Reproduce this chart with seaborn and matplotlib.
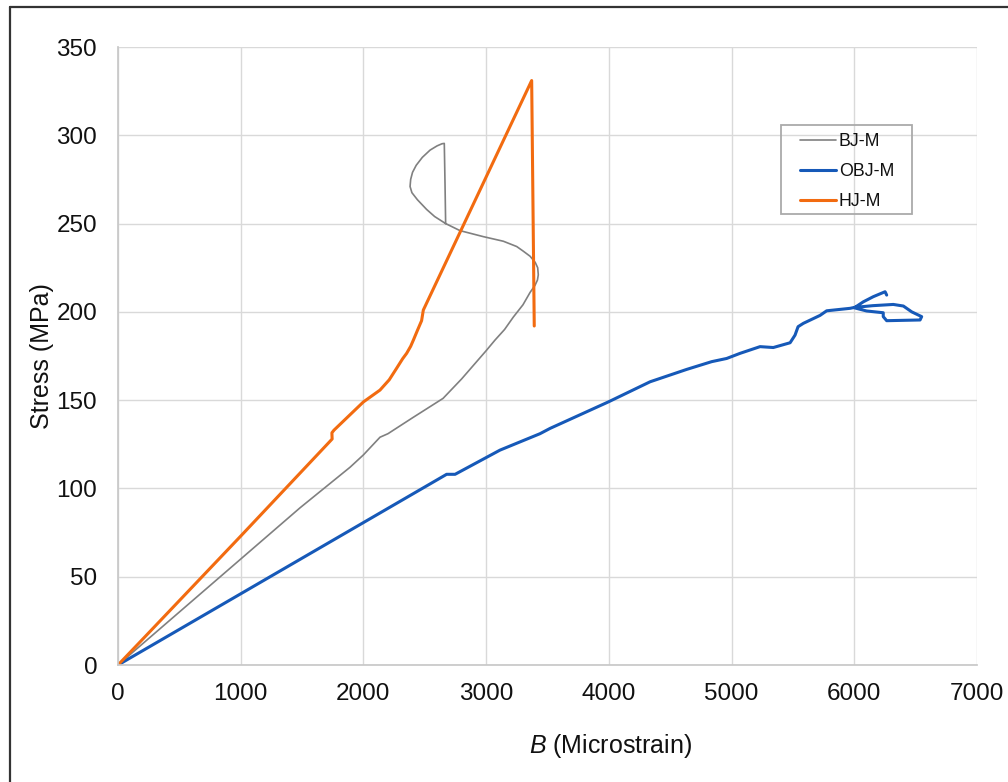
import matplotlib
matplotlib.use("Agg")
import matplotlib.pyplot as plt
from matplotlib.lines import Line2D
from matplotlib.patches import Rectangle
import seaborn as sns
import pandas as pd

# ---- data ----
bj_x = [0, 500, 1000, 1483, 1891, 2000, 2135, 2200, 2400, 2649, 2800, 3000, 3072, 3150, 3221,
        3300, 3358, 3398, 3418, 3425, 3420, 3400, 3358, 3300, 3249, 3140, 2977, 2787, 2670,
        2580, 2515, 2440, 2395, 2380, 2385, 2400, 2430, 2480, 2543, 2600, 2640, 2659, 2665, 2670]
bj_y = [0, 30, 60, 89, 112, 119, 129, 131, 140, 151, 162, 178, 184, 190, 197,
        204, 211, 215, 218, 221, 225, 228, 231.5, 234.5, 237, 240, 242.6, 246, 250,
        254, 258, 263.5, 267.5, 271, 275, 279, 283, 287.5, 291.6, 294, 295.2, 295.4, 272, 250]

obj_x = [0, 2678, 2747, 3113, 3439, 3521, 3996, 4336, 4634, 4838, 4960, 5069, 5232, 5340,
         5477, 5517, 5542, 5585, 5721, 5775, 5966, 6000, 6150, 6318, 6400, 6468, 6549,
         6536, 6400, 6264, 6236, 6236, 6100, 6000, 6074, 6155, 6251, 6264]
obj_y = [0, 108, 108, 121.7, 131, 134, 149, 160.4, 167.4, 171.8, 173.6, 176.5, 180.3, 179.8,
         182.5, 186.8, 191.6, 193.5, 198, 200.6, 202, 202.5, 203.5, 204.2, 203.3, 200, 197.3,
         195.4, 195.2, 195, 197.3, 199.5, 200.5, 202.3, 205.7, 208.6, 211.4, 209.5]

hj_x = [0, 220, 1000, 1725, 1745, 1743, 1760, 2000, 2135, 2210, 2270, 2320, 2352, 2385,
        2407, 2440, 2474, 2488, 3371, 3392]
hj_y = [0, 16, 73, 126.5, 128, 131.5, 133, 149, 155.7, 161.5, 168, 173.5, 176.5, 180.5,
        184, 189.5, 195, 201, 331, 192]

series_names = ["BJ-M", "OBJ-M", "HJ-M"]
x_ticks = [0, 1000, 2000, 3000, 4000, 5000, 6000, 7000]
y_ticks = [0, 50, 100, 150, 200, 250, 300, 350]

colors = {"BJ-M": "#808080", "OBJ-M": "#1659B8", "HJ-M": "#F26B10"}
widths = {"BJ-M": 1.2, "OBJ-M": 2.2, "HJ-M": 2.2}

sns.set_theme(style="white")
plt.rcParams["font.family"] = ["Liberation Sans", "DejaVu Sans"]
plt.rcParams["mathtext.fontset"] = "custom"
plt.rcParams["mathtext.it"] = "Liberation Sans:italic"
plt.rcParams["mathtext.rm"] = "Liberation Sans"

W, H = 1008, 782
fig = plt.figure(figsize=(W / 100, H / 100), dpi=100)
fig.patch.set_facecolor("white")
L, R, T, B = 118, 977, 47, 665
ax = fig.add_axes([L / W, 1 - B / H, (R - L) / W, (B - T) / H])

data = {"BJ-M": (bj_x, bj_y), "OBJ-M": (obj_x, obj_y), "HJ-M": (hj_x, hj_y)}
for name in series_names:
    xs, ys = data[name]
    df = pd.DataFrame({"x": xs, "y": ys})
    sns.lineplot(data=df, x="x", y="y", sort=False, estimator=None, ax=ax,
                 color=colors[name], linewidth=widths[name], label=name,
                 solid_capstyle="round", solid_joinstyle="round")

ax.set_xlim(0, 7000)
ax.set_ylim(0, 350)
ax.set_xticks(x_ticks)
ax.set_yticks(y_ticks)
ax.set_xticklabels([str(v) for v in x_ticks])
ax.set_yticklabels([str(v) for v in y_ticks])
ax.grid(True, color="#d9d9d9", linewidth=1.0)
ax.set_axisbelow(True)
for s in ax.spines.values():
    s.set_visible(False)
ax.spines["left"].set_visible(True)
ax.spines["bottom"].set_visible(True)
ax.spines["left"].set_color("#c8c8c8")
ax.spines["bottom"].set_color("#c8c8c8")
ax.tick_params(axis="both", length=0, labelsize=17.5, colors="#111111")
ax.tick_params(axis="x", pad=13)
ax.tick_params(axis="y", pad=15)

ax.set_xlabel(r"$\it{B}$ (Microstrain)", fontsize=18, color="#111111")
ax.set_ylabel("Stress (MPa)", fontsize=18, color="#111111")
ax.xaxis.set_label_coords((611 - L) / (R - L), -(746 - B) / (B - T))
ax.xaxis.label.set_va("center")
ax.yaxis.set_label_coords((42 - L) / (R - L), 0.5)
ax.yaxis.label.set_va("center")

leg = ax.legend(loc="upper left", bbox_to_anchor=((800 - L) / (R - L), (B - 133) / (B - T)),
                borderaxespad=0, fontsize=12.8, handlelength=2.0, handletextpad=0.18,
                labelspacing=0.74, borderpad=0, frameon=False)
for t in leg.get_texts():
    t.set_color("#111111")
fig.add_artist(Rectangle((781 / W, 1 - 214 / H), (912 - 781) / W, (214 - 125) / H,
                         transform=fig.transFigure, fill=False, edgecolor="#aaaaaa",
                         linewidth=1.3, zorder=5))

# figure border (left and top)
fig.add_artist(Line2D([9.5 / W, 9.5 / W], [0, 1 - 7 / H], transform=fig.transFigure,
                      color="#333333", linewidth=1.6))
fig.add_artist(Line2D([9.5 / W, 1], [1 - 7 / H, 1 - 7 / H], transform=fig.transFigure,
                      color="#333333", linewidth=1.6))

fig.savefig("out.png", dpi=100, facecolor="white")
